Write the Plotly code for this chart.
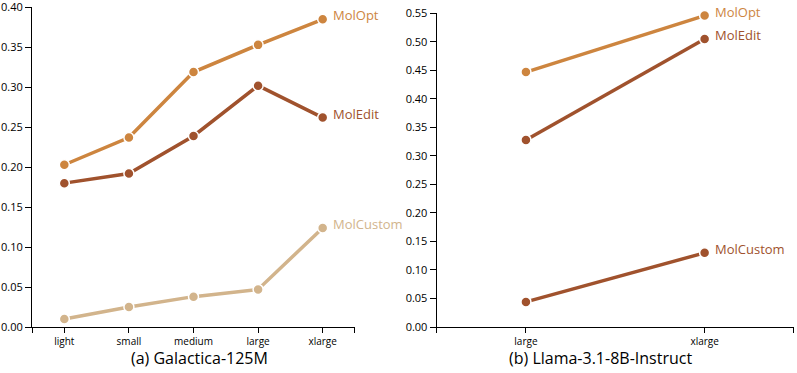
import plotly.graph_objects as go

# data
sizes_a = ['light', 'small', 'medium', 'large', 'xlarge']
molopt_a = [0.203, 0.237, 0.319, 0.353, 0.385]
moledit_a = [0.180, 0.192, 0.239, 0.302, 0.262]
molcustom_a = [0.010, 0.025, 0.038, 0.047, 0.124]

sizes_b = ['large', 'xlarge']
molopt_b = [0.447, 0.546]
moledit_b = [0.328, 0.505]
molcustom_b = [0.044, 0.130]

series_a = [('MolOpt', molopt_a, '#CD853F'),
            ('MolEdit', moledit_a, '#A0522D'),
            ('MolCustom', molcustom_a, '#D2B48C')]
series_b = [('MolOpt', molopt_b, '#CD853F'),
            ('MolEdit', moledit_b, '#A0522D'),
            ('MolCustom', molcustom_b, '#A0522D')]

FONT = 'Open Sans'

fig = go.Figure()

def add_panel(sizes, series, xa, ya):
    idx = list(range(len(sizes)))
    for name, vals, col in series:
        fig.add_trace(go.Scatter(x=idx, y=vals, xaxis=xa, yaxis=ya,
                                 mode='lines+markers', name=name,
                                 line=dict(color=col, width=3.5),
                                 marker=dict(color=col, size=10,
                                             line=dict(color='white', width=1.5)),
                                 cliponaxis=False, showlegend=False))
        fig.add_annotation(x=idx[-1], y=vals[-1], xref=xa, yref=ya,
                           text=name, showarrow=False, xanchor='left',
                           xshift=8, yshift=4,
                           font=dict(family=FONT, size=13, color=col))

add_panel(sizes_a, series_a, 'x', 'y')
add_panel(sizes_b, series_b, 'x2', 'y2')

def xaxis_cfg(sizes, domain):
    n = len(sizes)
    return dict(domain=domain, range=[-0.5, n - 0.5], automargin=False,
                tickvals=[-0.5] + list(range(n)) + [n - 0.5],
                ticktext=[''] + sizes + [''],
                showline=True, linecolor='black', linewidth=1,
                ticks='outside', ticklen=5, tickcolor='black',
                showgrid=False, zeroline=False,
                tickfont=dict(family=FONT, size=10, color='black'))

def yaxis_cfg(top, domain, anchor):
    return dict(domain=domain, range=[0, top + 1e-9], anchor=anchor, automargin=False,
                tick0=0, dtick=0.05, tickformat='.2f', ticklabeloverflow='allow',
                showline=True, linecolor='black', linewidth=1,
                ticks='outside', ticklen=6, tickcolor='black',
                showgrid=False, zeroline=False,
                tickfont=dict(family=FONT, size=11, color='black'))

fig.update_layout(
    width=797, height=373,
    margin=dict(l=0, r=0, t=0, b=0, autoexpand=False),
    plot_bgcolor='white', paper_bgcolor='white',
    xaxis=dict(anchor='y', **xaxis_cfg(sizes_a, [0.0402, 0.4454])),
    yaxis=yaxis_cfg(0.40, [0.1233, 0.9804], 'x'),
    xaxis2=dict(anchor='y2', **xaxis_cfg(sizes_b, [0.5478, 0.9962])),
    yaxis2=yaxis_cfg(0.55, [0.1233, 0.9643], 'x2'),
)

title_y = 1 - 358 / 373
fig.add_annotation(x=199 / 797, y=title_y, xref='paper', yref='paper',
                   xanchor='center', yanchor='middle',
                   text='(a) Galactica-125M', showarrow=False,
                   font=dict(family=FONT, size=16, color='black'))
fig.add_annotation(x=600 / 797, y=title_y, xref='paper', yref='paper',
                   xanchor='center', yanchor='middle',
                   text='(b) Llama-3.1-8B-Instruct', showarrow=False,
                   font=dict(family=FONT, size=16, color='black'))

# page body margin would push the fixed-size figure off by 8px
fig.write_html("out.html", config={'displayModeBar': False},
               post_script="document.body.style.margin='0';")
